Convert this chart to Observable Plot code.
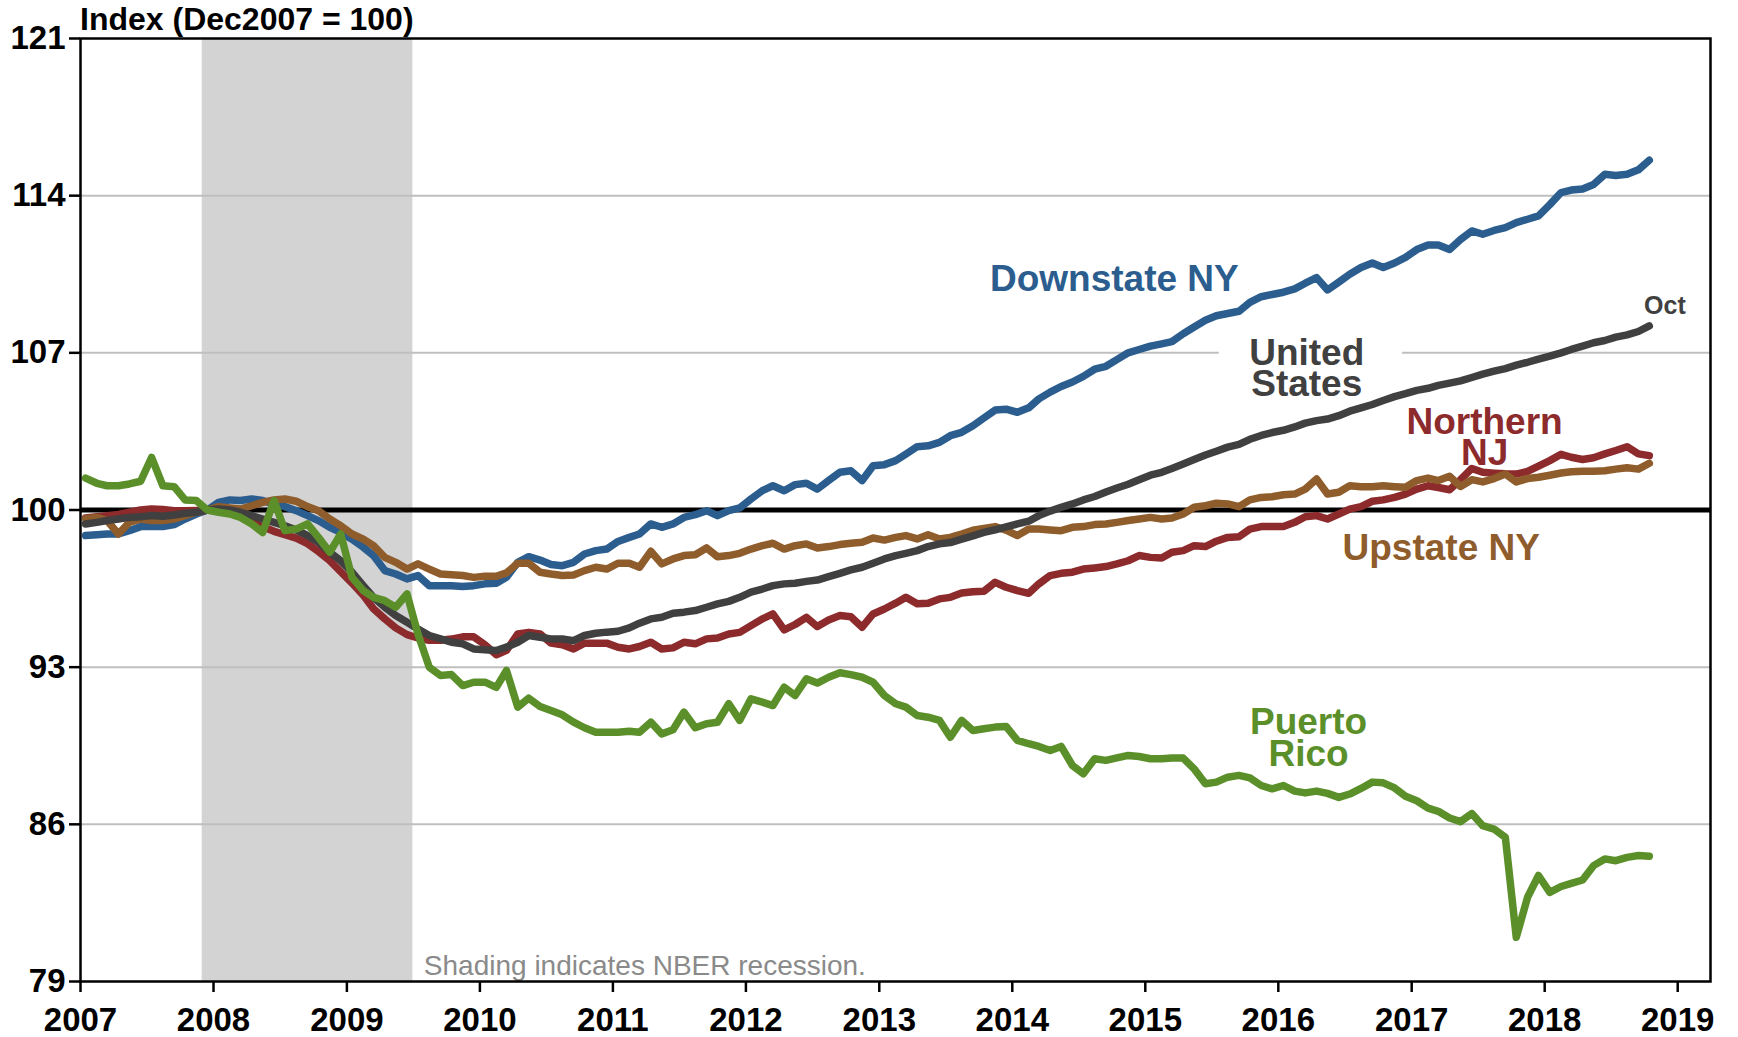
<!DOCTYPE html>
<html>
<head>
<meta charset="utf-8">
<script src="https://cdn.jsdelivr.net/npm/d3@7"></script>
<script src="https://cdn.jsdelivr.net/npm/@observablehq/plot@0.6"></script>
<style>
  body { margin: 0; background: #fff; }
  #wrap { position: relative; width: 1738px; height: 1037px; }
  #title { position: absolute; left: 80px; top: 3px; font: bold 32px 'Liberation Sans', Arial, sans-serif; line-height: 32px; color: #000; white-space: nowrap; }
</style>
</head>
<body>
<div id="wrap"><div id="title">Index (Dec2007 = 100)</div></div>
<script>
// Monthly values, Jan 2007 .. Oct 2018 (index, Dec 2007 = 100)
const downstateNY = [98.86, 98.9, 98.93, 98.93, 99.08, 99.26, 99.26, 99.26, 99.35, 99.6, 99.82, 100.0, 100.34, 100.45, 100.42, 100.49, 100.42, 100.27, 100.15, 99.97, 99.75, 99.53, 99.23, 99.0, 98.7, 98.34, 97.97, 97.3, 97.15, 96.93, 97.08, 96.63, 96.63, 96.63, 96.59, 96.63, 96.71, 96.74, 97.0,
  97.67, 97.92, 97.77, 97.57, 97.52, 97.67, 98.04, 98.19, 98.26, 98.6, 98.78, 98.93, 99.38, 99.23, 99.38, 99.67, 99.79, 99.97, 99.75, 99.97, 100.09, 100.49, 100.86, 101.08, 100.86, 101.13, 101.19, 100.93, 101.31, 101.68, 101.75, 101.31, 101.97, 102.02, 102.2, 102.49, 102.82, 102.86, 103.01, 103.31, 103.46, 103.75,
  104.1, 104.45, 104.49, 104.35, 104.55, 104.95, 105.25, 105.5, 105.7, 105.95, 106.27, 106.4, 106.7, 107.0, 107.15, 107.3, 107.4, 107.5, 107.85, 108.15, 108.45, 108.65, 108.75, 108.85, 109.25, 109.5, 109.6, 109.7, 109.85, 110.1, 110.35, 109.8, 110.15, 110.5, 110.8, 111.0, 110.8, 111.0, 111.25, 111.6, 111.8, 111.8, 111.6, 112.05, 112.43, 112.28, 112.45, 112.58, 112.8, 112.95, 113.1, 113.6, 114.14, 114.25, 114.3, 114.5, 114.95, 114.9, 114.95, 115.15, 115.58];

const northernNJ = [99.65, 99.7, 99.75, 99.8, 99.9, 100.0, 100.05, 100.02, 99.97, 99.97, 99.98, 100.0, 99.95, 99.85, 99.7, 99.5, 99.25, 99.05, 98.9, 98.75, 98.5, 98.15, 97.75, 97.25, 96.75, 96.2, 95.6, 95.15, 94.75, 94.45, 94.3, 94.2, 94.2, 94.25, 94.35, 94.35, 94.0, 93.55, 93.75,
  94.48, 94.55, 94.48, 94.07, 94.0, 93.81, 94.07, 94.07, 94.07, 93.89, 93.81, 93.92, 94.11, 93.81, 93.86, 94.11, 94.04, 94.26, 94.3, 94.48, 94.55, 94.85, 95.15, 95.37, 94.66, 94.9, 95.22, 94.81, 95.1, 95.3, 95.25, 94.78, 95.37, 95.59, 95.85, 96.11, 95.82, 95.85, 96.04, 96.11, 96.3, 96.36,
  96.38, 96.78, 96.56, 96.41, 96.29, 96.71, 97.08, 97.18, 97.23, 97.37, 97.42, 97.48, 97.6, 97.74, 97.97, 97.89, 97.86, 98.12, 98.19, 98.41, 98.37, 98.61, 98.78, 98.81, 99.15, 99.26, 99.26, 99.26, 99.45, 99.7, 99.75, 99.6, 99.82, 100.04, 100.15, 100.39, 100.45, 100.56, 100.71, 100.93, 101.08, 101.0, 100.9,
  101.35, 101.85, 101.68, 101.64, 101.61, 101.6, 101.72, 101.95, 102.2, 102.48, 102.35, 102.25, 102.33, 102.5, 102.65, 102.82, 102.5, 102.42];

const upstateNY = [99.6, 99.67, 99.53, 98.93, 99.45, 99.6, 99.53, 99.53, 99.6, 99.75, 99.9, 100.0, 100.15, 100.09, 100.04, 100.19, 100.34, 100.45, 100.49, 100.39, 100.15, 99.97, 99.6, 99.3, 98.93, 98.7, 98.41, 97.89, 97.67, 97.37, 97.6, 97.37, 97.15, 97.12, 97.08, 97.0, 97.05, 97.05, 97.2,
  97.63, 97.63, 97.23, 97.15, 97.08, 97.11, 97.3, 97.45, 97.37, 97.63, 97.63, 97.45, 98.16, 97.6, 97.82, 97.97, 98.01, 98.31, 97.92, 97.97, 98.07, 98.26, 98.41, 98.52, 98.26, 98.41, 98.49, 98.31, 98.37, 98.46, 98.52, 98.56, 98.75, 98.66, 98.78, 98.86, 98.71, 98.9, 98.71, 98.78, 98.93, 99.1,
  99.18, 99.26, 99.1, 98.86, 99.15, 99.15, 99.11, 99.08, 99.23, 99.26, 99.35, 99.38, 99.45, 99.53, 99.6, 99.67, 99.6, 99.64, 99.82, 100.12, 100.19, 100.3, 100.27, 100.15, 100.45, 100.56, 100.59, 100.68, 100.71, 100.93, 101.38, 100.71, 100.79, 101.08, 101.04, 101.04, 101.08, 101.04, 101.01, 101.31, 101.42, 101.31, 101.5,
  101.05, 101.35, 101.25, 101.4, 101.6, 101.25, 101.4, 101.46, 101.55, 101.65, 101.7, 101.73, 101.73, 101.75, 101.82, 101.88, 101.82, 102.08];

const unitedStates = [99.38, 99.45, 99.53, 99.6, 99.67, 99.7, 99.75, 99.72, 99.78, 99.85, 99.9, 100.0, 100.04, 100.0, 99.9, 99.75, 99.6, 99.45, 99.3, 99.11, 98.86, 98.56, 98.12, 97.74, 97.23, 96.63, 96.11, 95.67, 95.3, 95.0, 94.7, 94.41, 94.26, 94.11, 94.04, 93.81, 93.77, 93.74, 93.89,
  94.11, 94.41, 94.33, 94.26, 94.26, 94.18, 94.41, 94.51, 94.56, 94.6, 94.75, 94.96, 95.15, 95.22, 95.4, 95.45, 95.52, 95.67, 95.82, 95.93, 96.11, 96.34, 96.48, 96.63, 96.71, 96.74, 96.82, 96.88, 97.03, 97.18, 97.33, 97.45, 97.63, 97.82, 97.97, 98.07, 98.19, 98.37, 98.49, 98.55, 98.7, 98.85,
  99.0, 99.12, 99.25, 99.38, 99.5, 99.75, 99.95, 100.12, 100.27, 100.45, 100.6, 100.8, 100.98, 101.15, 101.35, 101.55, 101.68, 101.85, 102.05, 102.25, 102.45, 102.62, 102.8, 102.92, 103.15, 103.32, 103.45, 103.55, 103.7, 103.87, 103.98, 104.05, 104.2, 104.4, 104.55, 104.7, 104.88, 105.05, 105.18, 105.33, 105.42, 105.55, 105.65, 105.75, 105.9, 106.05, 106.18, 106.3, 106.45, 106.58, 106.72, 106.85, 107.0, 107.15, 107.3, 107.45, 107.55, 107.7, 107.8, 107.95, 108.2];

const puertoRico = [101.42, 101.19, 101.08, 101.08, 101.16, 101.28, 102.34, 101.08, 101.04, 100.45, 100.42, 100.0, 99.9, 99.82, 99.67, 99.38, 99.0, 100.42, 99.08, 99.15, 99.38, 98.78, 98.12, 98.93, 97.0, 96.41, 96.11, 95.96, 95.67, 96.26, 94.48, 93.0, 92.63, 92.67, 92.18, 92.33, 92.33, 92.1, 92.85,
  91.22, 91.62, 91.25, 91.07, 90.88,
  90.55, 90.3, 90.1, 90.1, 90.1, 90.15, 90.1, 90.55, 90.03, 90.21, 91.0, 90.3, 90.48, 90.55, 91.37, 90.63, 91.59, 91.44, 91.29, 92.11, 91.74, 92.48, 92.29, 92.55, 92.75, 92.67, 92.55, 92.33, 91.74, 91.37, 91.22, 90.85, 90.77, 90.63, 89.88, 90.63, 90.18, 90.26, 90.33, 90.36, 89.74, 89.59, 89.47, 89.29, 89.47, 88.62, 88.25, 88.92, 88.85, 88.96, 89.07, 89.02, 88.92, 88.92, 88.95, 88.95, 88.47, 87.81, 87.88, 88.1, 88.18, 88.07, 87.73, 87.58, 87.73, 87.48,
  87.4, 87.48, 87.38, 87.2, 87.35, 87.6, 87.88, 87.85, 87.62, 87.25, 87.05, 86.72, 86.58, 86.28, 86.12, 86.48, 85.94, 85.79, 85.42, 80.97, 82.75, 83.72, 82.97, 83.23, 83.37, 83.52, 84.16, 84.46, 84.38, 84.53, 84.61, 84.58];

const yTicks = [79, 86, 93, 100, 107, 114, 121];
const gridValues = [86, 93, 107, 114];
const yearTicks = d3.range(2007, 2020).map(y => new Date(Date.UTC(y, 0, 1)));
const recession = [{start: new Date(Date.UTC(2007, 11, 1)), end: new Date(Date.UTC(2009, 6, 1))}];

const seriesList = [
  {name: "Downstate NY", values: downstateNY, color: "#2B5D8F"},
  {name: "Northern NJ", values: northernNJ, color: "#8C2A2C"},
  {name: "Upstate NY", values: upstateNY, color: "#8F5C2B"},
  {name: "United States", values: unitedStates, color: "#404040"},
  {name: "Puerto Rico", values: puertoRico, color: "#5B8F2A"}
];

const labels = [
  {text: "Downstate NY", date: new Date(Date.UTC(2014, 9, 8)), value: 110.19, color: "#2B5D8F", size: 37},
  {text: "United\nStates", date: new Date(Date.UTC(2016, 2, 19)), value: 106.22, color: "#404040", size: 37},
  {text: "Northern\nNJ", date: new Date(Date.UTC(2017, 6, 20)), value: 103.14, color: "#8C2A2C", size: 37},
  {text: "Upstate NY", date: new Date(Date.UTC(2017, 2, 23)), value: 98.2, color: "#8F5C2B", size: 37},
  {text: "Puerto\nRico", date: new Date(Date.UTC(2016, 2, 24)), value: 89.76, color: "#5B8F2A", size: 37},
  {text: "Oct", date: new Date(Date.UTC(2018, 10, 27)), value: 109.03, color: "#404040", size: 25}
];
// white box behind the "United States" label, interrupting the 107 gridline
const labelBox = [{x1: new Date(Date.UTC(2015, 6, 23)), x2: new Date(Date.UTC(2016, 11, 7)), y1: 106.6, y2: 107.4}];
const shadingNote = [{text: "Shading indicates NBER recession.", date: recession[0].end, value: 79.71}];

function rowsOf(s) {
  return s.values.map((v, i) => ({date: new Date(Date.UTC(2007, i, 15)), value: v}));
}

const font = "'Liberation Sans', Arial, Helvetica, sans-serif";

const chart = Plot.plot({
  width: 1738,
  height: 1037,
  marginLeft: 80,
  marginRight: 28,
  marginTop: 38,
  marginBottom: 56,
  style: {fontFamily: font, background: "white", color: "black", overflow: "visible"},
  x: {type: "utc", domain: [new Date(Date.UTC(2007, 0, 1)), new Date(Date.UTC(2019, 3, 1))]},
  y: {domain: [79, 121]},
  marks: [
    Plot.rect(recession, {x1: "start", x2: "end", y1: 79, y2: 121, fill: "#D3D3D3"}),
    Plot.gridY(gridValues, {stroke: "#BFBFBF", strokeWidth: 2, strokeOpacity: 1}),
    Plot.rect(labelBox, {x1: "x1", x2: "x2", y1: "y1", y2: "y2", fill: "white"}),
    Plot.text(shadingNote, {x: "date", y: "value", text: "text", textAnchor: "start", dx: 11, fontSize: 28, fill: "#8A8A8A", fontWeight: "normal"}),
    Plot.ruleY([100], {stroke: "black", strokeWidth: 5}),
    ...seriesList.map(s => Plot.line(rowsOf(s), {x: "date", y: "value", stroke: s.color, strokeWidth: 7.5, strokeLinejoin: "round", strokeLinecap: "round"})),
    Plot.text(labels, {x: "date", y: "value", text: "text", fill: "color", fontSize: "size", fontWeight: "bold", textAnchor: "middle", lineHeight: 0.85}),
    Plot.frame({stroke: "black", strokeWidth: 2.5}),
    Plot.axisY(yTicks, {tickSize: 11, tickPadding: 4, strokeWidth: 2.5, fontSize: 33, fontWeight: "bold", fill: "black", label: null}),
    Plot.axisX(yearTicks, {tickSize: 11, tickPadding: 15, strokeWidth: 2.5, fontSize: 33, fontWeight: "bold", fill: "black", tickFormat: d3.utcFormat("%Y"), label: null})
  ]
});

document.getElementById("wrap").prepend(chart);
</script>
</body>
</html>
